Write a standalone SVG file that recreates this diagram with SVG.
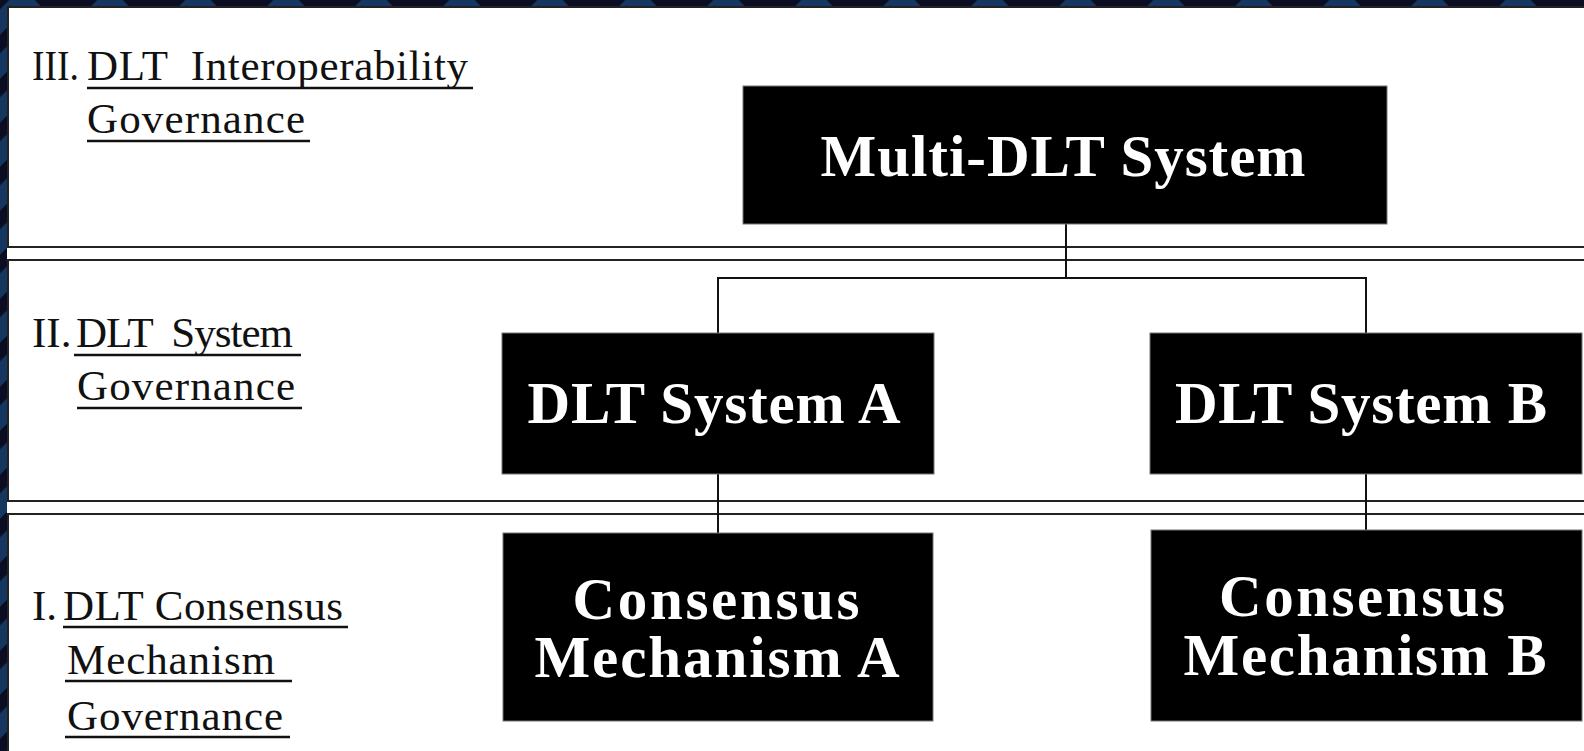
<svg xmlns="http://www.w3.org/2000/svg" width="1584" height="751" viewBox="0 0 1584 751">
  <defs>
    <pattern id="chev" x="0" y="0" width="88" height="88" patternUnits="userSpaceOnUse">
      <rect width="88" height="88" fill="#0b0d22"/>
      <path d="M-22,44 L22,0 L66,44 L110,0 M-22,88 L22,44 L66,88 L110,44" fill="none" stroke="#14365f" stroke-width="18"/>
    </pattern>
    <style>
      .lbl { font-family: "Liberation Serif", "Times New Roman", serif; font-size: 43px; fill: #111; white-space: pre; }
      .ul { stroke: #111; stroke-width: 2.5; }
      .box { fill: #000; stroke: #777; stroke-width: 1; }
      .bt { font-family: "Liberation Serif", "Times New Roman", serif; font-size: 59px; font-weight: bold; fill: #fff; text-anchor: middle; }
      .sep { stroke: #222; stroke-width: 2; fill: none; }
      .con { stroke: #111; stroke-width: 2; fill: none; }
    </style>
  </defs>

  <rect x="0" y="0" width="1584" height="751" fill="url(#chev)"/>
  <rect x="7" y="6" width="1577" height="745" fill="#fff"/>

  <g id="bands">
    <line class="sep" x1="7" y1="7" x2="1584" y2="7"/>
    <line class="sep" x1="7" y1="247" x2="1584" y2="247"/>
    <line class="sep" x1="7" y1="260" x2="1584" y2="260"/>
    <line class="sep" x1="7" y1="501" x2="1584" y2="501"/>
    <line class="sep" x1="7" y1="514" x2="1584" y2="514"/>
    <line class="sep" x1="8" y1="6" x2="8" y2="247"/>
    <line class="sep" x1="8" y1="260" x2="8" y2="501"/>
    <line class="sep" x1="8" y1="514" x2="8" y2="751"/>
  </g>

  <g id="label-III">
    <text class="lbl" x="32" y="80" textLength="47" lengthAdjust="spacingAndGlyphs">III.</text>
    <text class="lbl" x="87" y="80" textLength="381" lengthAdjust="spacing">DLT  Interoperability</text>
    <line class="ul" x1="87" y1="88" x2="473" y2="88"/>
    <text class="lbl" x="87" y="133" textLength="218" lengthAdjust="spacing">Governance</text>
    <line class="ul" x1="87" y1="141" x2="310" y2="141"/>
  </g>

  <g id="label-II">
    <text class="lbl" x="32" y="347">II.</text>
    <text class="lbl" x="76" y="347" textLength="217" lengthAdjust="spacing">DLT  System</text>
    <line class="ul" x1="74" y1="355" x2="301" y2="355"/>
    <text class="lbl" x="77" y="400" textLength="218" lengthAdjust="spacing">Governance</text>
    <line class="ul" x1="77" y1="408" x2="302" y2="408"/>
  </g>

  <g id="label-I">
    <text class="lbl" x="32" y="620">I.</text>
    <text class="lbl" x="63" y="620" textLength="280" lengthAdjust="spacing">DLT Consensus</text>
    <line class="ul" x1="63" y1="627" x2="348" y2="627"/>
    <text class="lbl" x="67" y="674" textLength="208" lengthAdjust="spacing">Mechanism</text>
    <line class="ul" x1="65" y1="681" x2="292" y2="681"/>
    <text class="lbl" x="67" y="730" textLength="216" lengthAdjust="spacing">Governance</text>
    <line class="ul" x1="65" y1="737" x2="290" y2="737"/>
  </g>

  <g id="connectors">
    <path class="con" d="M1066,224 V278"/>
    <path class="con" d="M718,278 H1366"/>
    <path class="con" d="M718,277 V333"/>
    <path class="con" d="M1366,277 V333"/>
    <path class="con" d="M718,474 V533"/>
    <path class="con" d="M1366,474 V530"/>
  </g>

  <g id="multi-dlt">
    <rect class="box" x="743" y="86" width="644" height="138"/>
    <text class="bt" x="1063" y="176" textLength="485" lengthAdjust="spacing">Multi-DLT System</text>
  </g>
  <g id="dlt-a">
    <rect class="box" x="502" y="333" width="432" height="141"/>
    <text class="bt" x="714" y="423" textLength="373" lengthAdjust="spacing">DLT System A</text>
  </g>
  <g id="dlt-b">
    <rect class="box" x="1150" y="333" width="432" height="141"/>
    <text class="bt" x="1361" y="423" textLength="372" lengthAdjust="spacing">DLT System B</text>
  </g>
  <g id="consensus-a">
    <rect class="box" x="503" y="533" width="430" height="188"/>
    <text class="bt" x="716" y="619" textLength="287" lengthAdjust="spacing">Consensus</text>
    <text class="bt" x="717" y="677" textLength="365" lengthAdjust="spacing">Mechanism A</text>
  </g>
  <g id="consensus-b">
    <rect class="box" x="1151" y="530" width="431" height="191"/>
    <text class="bt" x="1362" y="616" textLength="286" lengthAdjust="spacing">Consensus</text>
    <text class="bt" x="1365" y="675" textLength="363" lengthAdjust="spacing">Mechanism B</text>
  </g>
</svg>
